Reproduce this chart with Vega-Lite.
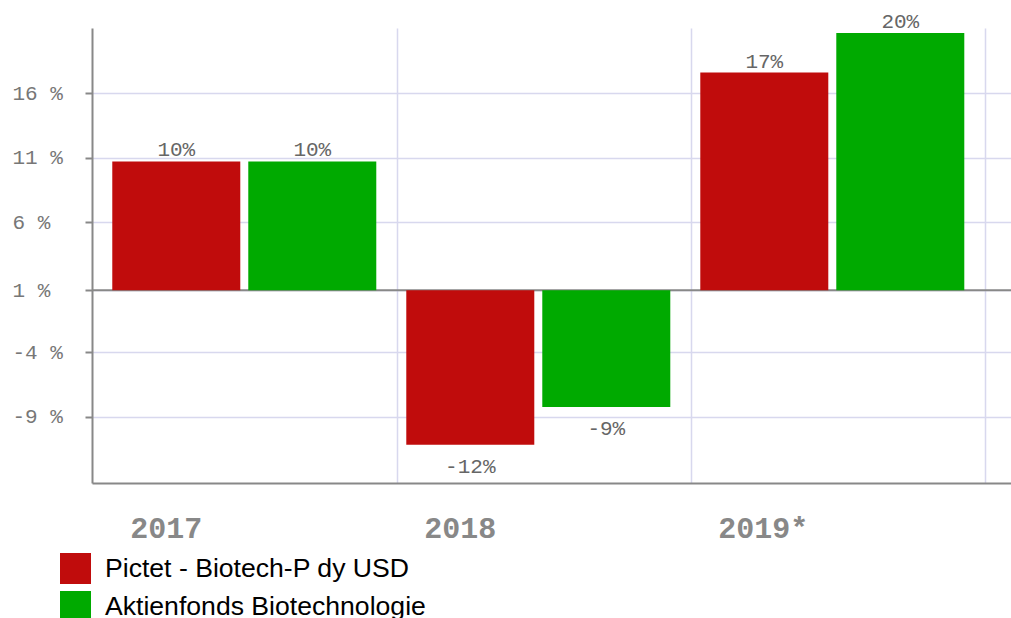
{
  "$schema": "https://vega.github.io/schema/vega-lite/v6.json",
  "width": 919,
  "height": 455,
  "autosize": {"type": "none"},
  "padding": {"left": 92, "top": 28, "right": 0, "bottom": 135},
  "background": "white",
  "config": {"view": {"stroke": null}},
  "data": {"values": [
    {"year": "2017", "series": "Pictet - Biotech-P dy USD", "value": 10.0, "label": "10%"},
    {"year": "2017", "series": "Aktienfonds Biotechnologie", "value": 10.0, "label": "10%"},
    {"year": "2018", "series": "Pictet - Biotech-P dy USD", "value": -12.0, "label": "-12%"},
    {"year": "2018", "series": "Aktienfonds Biotechnologie", "value": -9.07, "label": "-9%"},
    {"year": "2019*", "series": "Pictet - Biotech-P dy USD", "value": 16.9, "label": "17%"},
    {"year": "2019*", "series": "Aktienfonds Biotechnologie", "value": 19.97, "label": "20%"}
  ]},
  "layer": [
    {
      "data": {"values": [{"z": 0}]},
      "mark": {"type": "rule", "color": "#888888", "strokeWidth": 2},
      "encoding": {"y": {"field": "z", "type": "quantitative"}}
    },
    {
      "mark": {"type": "bar"},
      "encoding": {
        "x": {
          "field": "year", "type": "nominal", "sort": null,
          "scale": {"paddingInner": 0, "paddingOuter": 0.0629, "align": 0.305},
          "axis": {
            "title": null, "bandPosition": 1, "grid": true, "gridColor": "#d8d8ee", "gridWidth": 1.5,
            "ticks": false, "tickSize": 0, "domainColor": "#888888", "domainWidth": 2,
            "labelAlign": "left", "labelOffset": -120, "labelPadding": 54, "labelBaseline": "alphabetic",
            "labelFont": "Liberation Mono", "labelFontWeight": "bold", "labelFontSize": 30,
            "labelColor": "#888888", "labelAngle": 0
          }
        },
        "xOffset": {
          "field": "series", "type": "nominal",
          "scale": {"domain": ["Pictet - Biotech-P dy USD", "Aktienfonds Biotechnologie"], "paddingInner": 0.0588, "paddingOuter": 0.1103, "align": 0.3}
        },
        "y": {
          "field": "value", "type": "quantitative",
          "scale": {"domain": [-14.96, 20.36], "nice": false, "zero": false},
          "axis": {
            "title": null, "values": [15.3, 10.3, 5.3, 0, -4.8, -9.8],
            "labelExpr": "(round(datum.value) + 1) + ' %'",
            "grid": true, "gridColor": "#d8d8ee", "gridWidth": 1.5,
            "domainColor": "#888888", "domainWidth": 2,
            "tickColor": "#888888", "tickWidth": 2, "tickSize": 7,
            "labelAlign": "left", "labelPadding": 73, "labelBaseline": "middle",
            "labelFont": "Liberation Mono", "labelFontSize": 21, "labelColor": "#777777"
          }
        },
        "color": {
          "field": "series", "type": "nominal",
          "scale": {"domain": ["Pictet - Biotech-P dy USD", "Aktienfonds Biotechnologie"], "range": ["#c00c0c", "#00aa00"]},
          "legend": {
            "orient": "none", "legendX": -32, "legendY": 525, "title": null, "direction": "vertical",
            "symbolType": "square", "symbolSize": 961, "symbolStrokeWidth": 0,
            "labelFont": "Liberation Sans", "labelFontSize": 26.6, "labelColor": "#000000",
            "labelOffset": 14, "rowPadding": 7, "padding": 0, "labelLimit": 600,
            "encode": {"symbols": {"update": {"fill": {"signal": "datum.value === 'Aktienfonds Biotechnologie' ? '#66aa0a' : '#c00c0c'"}}}}
          }
        }
      }
    },
    {
      "transform": [{"filter": "datum.value >= 0"}],
      "mark": {"type": "text", "dy": -5, "baseline": "alphabetic", "align": "center", "font": "Liberation Mono", "fontSize": 21, "color": "#666666"},
      "encoding": {
        "x": {"field": "year", "type": "nominal", "sort": null},
        "xOffset": {"field": "series", "type": "nominal"},
        "y": {"field": "value", "type": "quantitative"},
        "text": {"field": "label"}
      }
    },
    {
      "transform": [{"filter": "datum.value < 0"}],
      "mark": {"type": "text", "dy": 28, "baseline": "alphabetic", "align": "center", "font": "Liberation Mono", "fontSize": 21, "color": "#666666"},
      "encoding": {
        "x": {"field": "year", "type": "nominal", "sort": null},
        "xOffset": {"field": "series", "type": "nominal"},
        "y": {"field": "value", "type": "quantitative"},
        "text": {"field": "label"}
      }
    }
  ]
}
